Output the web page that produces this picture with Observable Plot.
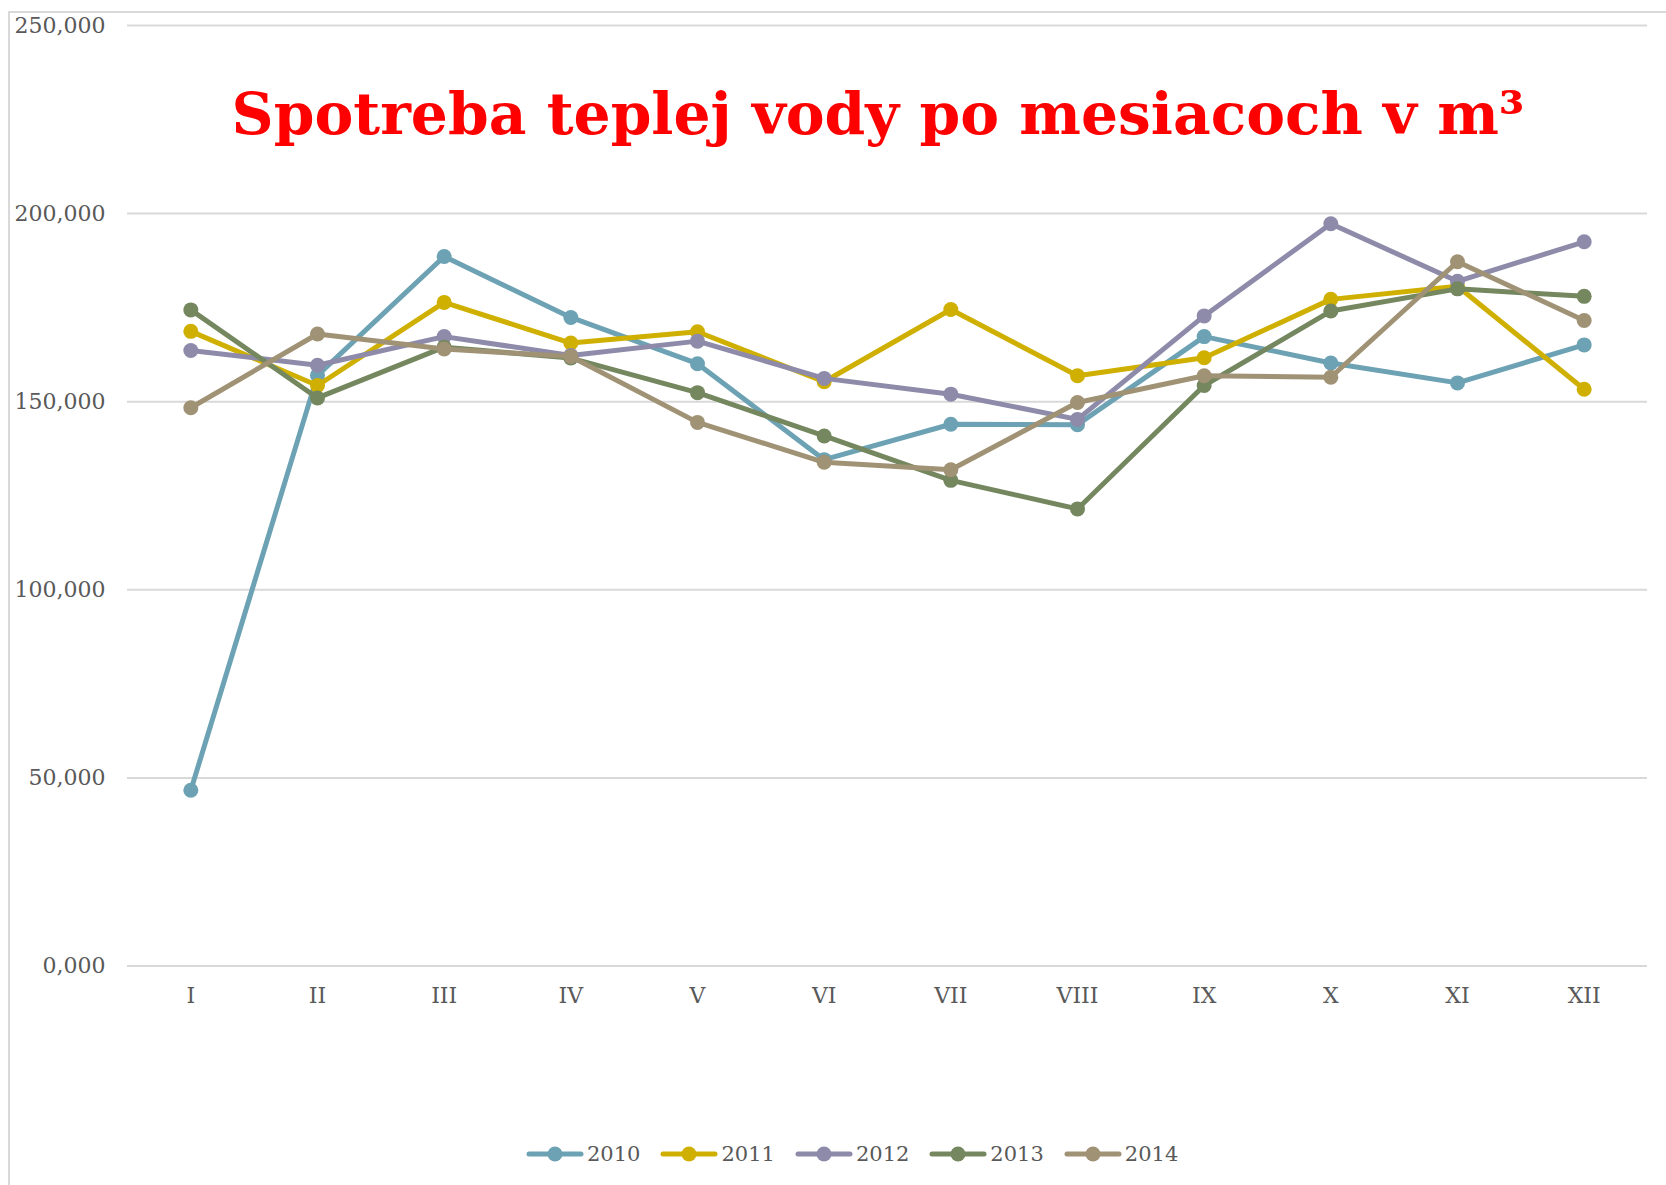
<!DOCTYPE html>
<html>
<head>
<meta charset="utf-8">
<script src="https://cdn.jsdelivr.net/npm/d3@7"></script>
<script src="https://cdn.jsdelivr.net/npm/@observablehq/plot@0.6"></script>
<style>
  html, body { margin: 0; padding: 0; background: #fff; overflow: hidden; width: 1666px; height: 1185px; }
  #frame { position: absolute; left: 8px; top: 11px; width: 1700px; height: 1300px; border: 2px solid #d9d9d9; box-sizing: border-box; }
  #chart { position: absolute; left: 0; top: 0; }
  #legend { position: absolute; left: 526px; top: 1142px; display: flex; gap: 20px; height: 24px;
            font-family: "DejaVu Serif"; font-size: 21px; line-height: 24px; color: #595959; }
  .item { display: flex; height: 24px; }
  .item svg { display: block; margin-right: 3px; }
</style>
</head>
<body>
<div id="frame"></div>
<div id="chart"></div>
<div id="legend"></div>
<script>
const months = ["I","II","III","IV","V","VI","VII","VIII","IX","X","XI","XII"];
const years = ["2010","2011","2012","2013","2014"];
const s2010 = [46700, 157000, 188600, 172400, 160100, 134600, 144000, 143900, 167300, 160300, 155000, 165100];
const s2011 = [168700, 154300, 176400, 165600, 168600, 155300, 174500, 156900, 161700, 177200, 180700, 153300];
const s2012 = [163600, 159700, 167300, 162300, 166100, 156200, 152000, 145300, 172800, 197300, 182000, 192500];
const s2013 = [174400, 151000, 164500, 161600, 152400, 140900, 129100, 121500, 154300, 174100, 180000, 178000];
const s2014 = [148400, 168000, 164000, 162000, 144500, 133900, 131900, 149800, 156900, 156500, 187200, 171600];
const colors = ["#6ca2b3", "#cfb000", "#8e8aa9", "#74875f", "#a09274"];
const yTicks = [0, 50000, 100000, 150000, 200000, 250000];
const yTickLabels = ["0,000", "50,000", "100,000", "150,000", "200,000", "250,000"];
const title = "Spotreba teplej vody po mesiacoch v m³";

const series = [s2010, s2011, s2012, s2013, s2014];
const rows = years.flatMap((yr, j) => series[j].map((v, i) => ({month: months[i], year: yr, value: v})));

const seriesMarks = years.flatMap(yr => {
  const d = rows.filter(r => r.year === yr);
  return [
    Plot.line(d, {x: "month", y: "value", stroke: "year", strokeWidth: 5, strokeLinejoin: "round"}),
    Plot.dot(d, {x: "month", y: "value", fill: "year", r: 7.5})
  ];
});

const chart = Plot.plot({
  width: 1666,
  height: 1185,
  marginLeft: 127,
  marginRight: 19,
  marginTop: 25,
  marginBottom: 219.5,
  style: {fontFamily: "DejaVu Serif", fontSize: "22px", color: "#595959", background: "transparent"},
  x: {type: "point", domain: months, padding: 0.5, round: false, label: null},
  y: {domain: [0, 250000], label: null},
  color: {domain: years, range: colors},
  marks: [
    Plot.ruleY(yTicks, {stroke: "#d9d9d9", strokeWidth: 2}),
    Plot.axisY({ticks: yTicks, tickFormat: d => yTickLabels[yTicks.indexOf(d)], tickSize: 0, tickPadding: 22, label: null}),
    Plot.axisX({tickSize: 0, tickPadding: 21, label: null}),
    ...seriesMarks
  ]
});
document.getElementById("chart").appendChild(chart);

// title inside the plot area
const svg = d3.select(chart);
const t = svg.append("text")
  .attr("x", 878).attr("y", 134)
  .attr("text-anchor", "middle")
  .attr("fill", "#ff0000")
  .attr("font-weight", "bold")
  .attr("font-family", "DejaVu Serif")
  .attr("font-size", 60)
  .text(title);
const w = t.node().getComputedTextLength();
if (w > 0) t.attr("font-size", 60 * 1293 / w);

// legend
const legend = d3.select("#legend");
years.forEach((yr, j) => {
  const item = legend.append("div").attr("class", "item");
  const s = item.append("svg").attr("width", 58).attr("height", 24);
  s.append("line").attr("x1", 3).attr("x2", 55).attr("y1", 12).attr("y2", 12)
    .attr("stroke", colors[j]).attr("stroke-width", 5).attr("stroke-linecap", "round");
  s.append("circle").attr("cx", 29).attr("cy", 12).attr("r", 7.5).attr("fill", colors[j]);
  item.append("span").text(yr);
});
</script>
</body>
</html>
